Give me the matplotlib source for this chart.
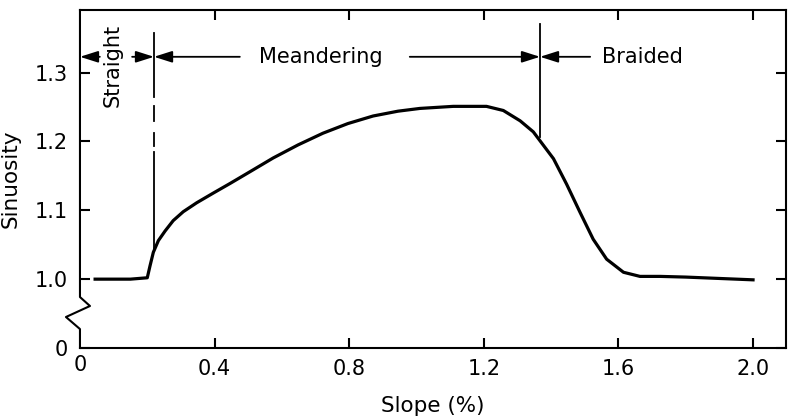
import matplotlib.pyplot as plt
import numpy as np

# curve (slope %, sinuosity)
slope = [0.045, 0.10, 0.15, 0.200, 0.208, 0.218, 0.233, 0.253, 0.277, 0.307, 0.347,
         0.396, 0.446, 0.505, 0.574, 0.648, 0.722, 0.796, 0.871, 0.945, 1.010,
         1.109, 1.208, 1.258, 1.308, 1.347, 1.367, 1.407, 1.446, 1.486, 1.525,
         1.565, 1.615, 1.664, 1.724, 1.80, 1.90, 2.0]
sinuosity = [1.0, 1.0, 1.0, 1.002, 1.019, 1.039, 1.056, 1.070, 1.085, 1.098, 1.111,
             1.125, 1.139, 1.156, 1.176, 1.195, 1.212, 1.226, 1.237, 1.244, 1.248,
             1.251, 1.251, 1.245, 1.230, 1.214, 1.201, 1.175, 1.138, 1.097, 1.058,
             1.029, 1.010, 1.004, 1.004, 1.003, 1.001, 0.999]

xticks = [0.4, 0.8, 1.2, 1.6, 2.0]
xticklabels = ['0.4', '0.8', '1.2', '1.6', '2.0']
yticks = [0.9, 1.0, 1.1, 1.2, 1.3]
yticklabels = ['0', '1.0', '1.1', '1.2', '1.3']

# regime boundaries
b_straight = 0.22
b_braided = 1.367
arrow_y = 1.323

fig = plt.figure(figsize=(7.91, 4.18), dpi=100)
ax = fig.add_axes([0.1011, 0.1675, 0.8926, 0.8086])

ax.plot(slope, sinuosity, color='k', lw=2.3, solid_joinstyle='round')

ax.set_xlim(0, 2.098)
ax.set_ylim(0.9, 1.391)

ax.set_xticks(xticks)
ax.set_xticklabels(xticklabels)
ax.set_yticks(yticks)
ax.set_yticklabels(yticklabels)
ax.tick_params(direction='in', length=7, width=1.5, labelsize=15,
               top=True, right=True, pad=8)
ax.tick_params(axis='y', pad=9)
ax.text(0, -0.02, '0', transform=ax.get_xaxis_transform(), ha='center', va='top',
        fontsize=15)

for s in ['top', 'right', 'bottom']:
    ax.spines[s].set_linewidth(1.5)
ax.spines['left'].set_visible(False)

# left spine with a break
brk_x = [0, 0, 0.0297, -0.0416, 0, 0]
brk_y = [1.391, 0.974, 0.961, 0.945, 0.9275, 0.9]
ax.plot(brk_x, brk_y, color='k', lw=1.5, clip_on=False)

# boundary lines
seg_straight = [(1.358, 1.265), (1.251, 1.230), (1.213, 1.193), (1.184, 1.043)]
for top, bot in seg_straight:
    ax.plot([b_straight, b_straight], [top, bot], color='k', lw=1.3)
ax.plot([b_braided, b_braided], [1.370, 1.207], color='k', lw=1.3)

# arrows
aprops = dict(arrowstyle='-|>,head_length=1.1,head_width=0.35', lw=1.3,
              color='k', shrinkA=0, shrinkB=0)
arrows = [(0.059, 0.0), (0.155, b_straight), (0.475, b_straight),
          (0.98, b_braided), (1.516, b_braided)]
for tail, head in arrows:
    ax.annotate('', xy=(head, arrow_y), xytext=(tail, arrow_y), arrowprops=aprops)

ax.text(0.716, arrow_y, 'Meandering', ha='center', va='center', fontsize=15)
ax.text(1.670, arrow_y, 'Braided', ha='center', va='center', fontsize=15)
ax.text(0.098, 1.310, 'Straight', ha='center', va='center', rotation=90, fontsize=15)

ax.set_xlabel('Slope (%)', fontsize=15.5, labelpad=12)
ax.set_ylabel('Sinuosity', fontsize=15.5, labelpad=10)

fig.savefig('out.png', dpi=100)
